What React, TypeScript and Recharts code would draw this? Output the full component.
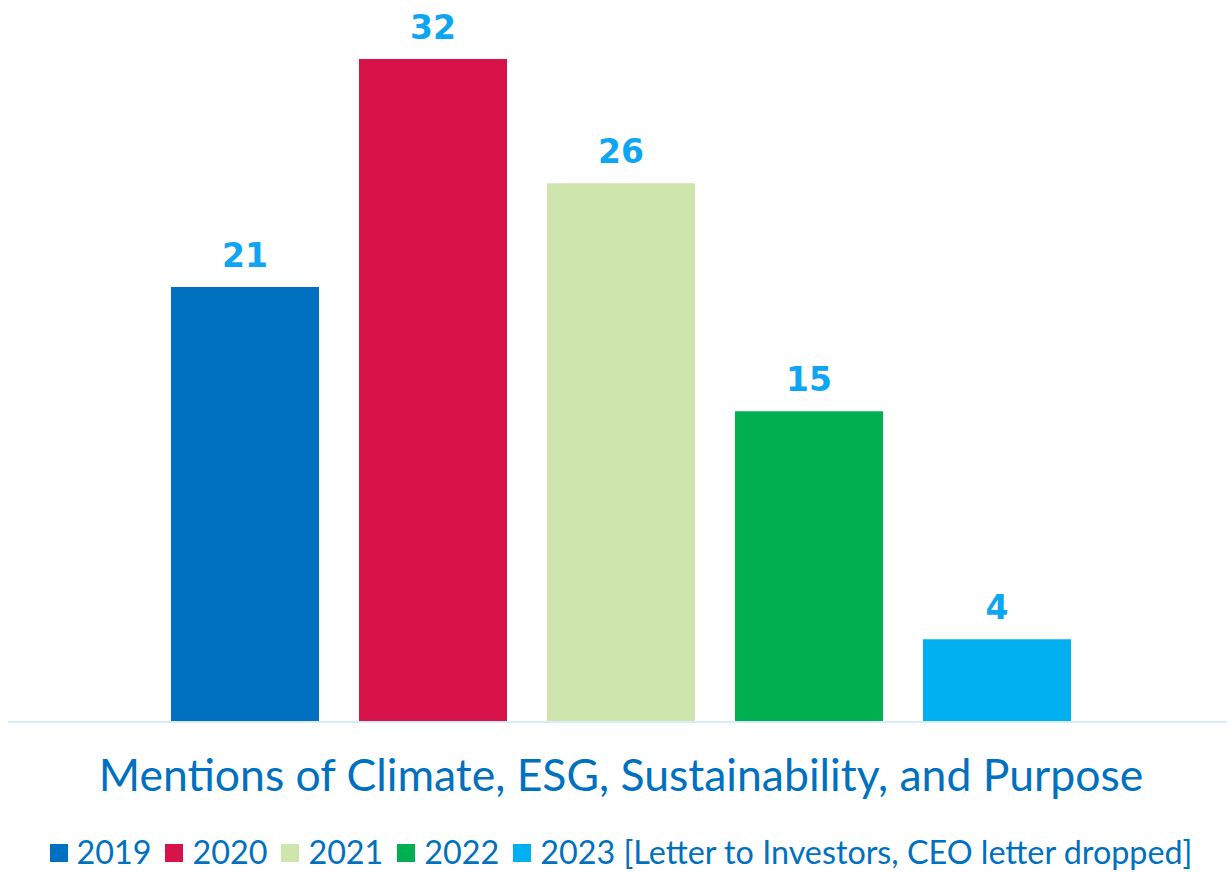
import React from 'react';
import { BarChart, Bar, XAxis, YAxis, Legend, LabelList } from 'recharts';

const categories = ['Mentions of Climate, ESG, Sustainability, and Purpose'];
const seriesNames = ['2019', '2020', '2021', '2022', '2023 [Letter to Investors, CEO letter dropped]'];
const seriesKeys = ['y2019', 'y2020', 'y2021', 'y2022', 'y2023'];
const seriesValues = [21, 32, 26, 15, 4];
const seriesColors = ['#0070C0', '#D81349', '#CFE5AE', '#00B050', '#00B0F0'];

const data = categories.map((c) => {
  const row: Record<string, string | number> = { category: c };
  seriesKeys.forEach((k, i) => {
    row[k] = seriesValues[i];
  });
  return row;
});

const FONT = 'Lato, "Noto Sans", sans-serif';

const renderLegend = (props: any) => {
  const payload = props.payload || [];
  return (
    <div
      style={{
        display: 'flex',
        justifyContent: 'center',
        alignItems: 'center',
        fontFamily: FONT,
        fontSize: 32.3,
        color: '#0070C0',
        height: 40,
        whiteSpace: 'nowrap',
      }}
    >
      {payload.map((p: any, i: number) => (
        <div key={i} style={{ display: 'flex', alignItems: 'center', marginRight: i < payload.length - 1 ? 14 : 0 }}>
          <div style={{ width: 18, height: 18, background: p.color, marginRight: 9, marginTop: 4 }} />
          <span>{p.value}</span>
        </div>
      ))}
    </div>
  );
};

export default function App() {
  return (
    <div style={{ position: 'absolute', left: 0, top: 0, width: 1227, height: 872, background: '#fff', overflow: 'hidden' }}>
      <BarChart
        width={1227}
        height={872}
        data={data}
        margin={{ top: 59, right: -7, left: 8, bottom: 0 }}
        barSize={148}
        barGap={40}
      >
        <XAxis
          dataKey="category"
          axisLine={{ stroke: '#D6ECF8', strokeWidth: 2 }}
          tickLine={false}
          height={100}
          tickMargin={31}
          tick={{ fill: '#0070C0', fontSize: 44.5, fontFamily: FONT }}
          interval={0}
        />
        <YAxis hide domain={[0, 32]} />
        <Legend
          verticalAlign="bottom"
          align="center"
          height={50}
          wrapperStyle={{ bottom: -9 }}
          content={renderLegend}
        />
        {seriesKeys.map((k, i) => (
          <Bar key={k} dataKey={k} name={seriesNames[i]} fill={seriesColors[i]} isAnimationActive={false}>
            <LabelList
              dataKey={k}
              position="top"
              offset={20}
              fill="#0EA5F3"
              fontSize={33}
              fontWeight="bold"
              fontFamily={'"DejaVu Sans", sans-serif'}
            />
          </Bar>
        ))}
      </BarChart>
    </div>
  );
}
